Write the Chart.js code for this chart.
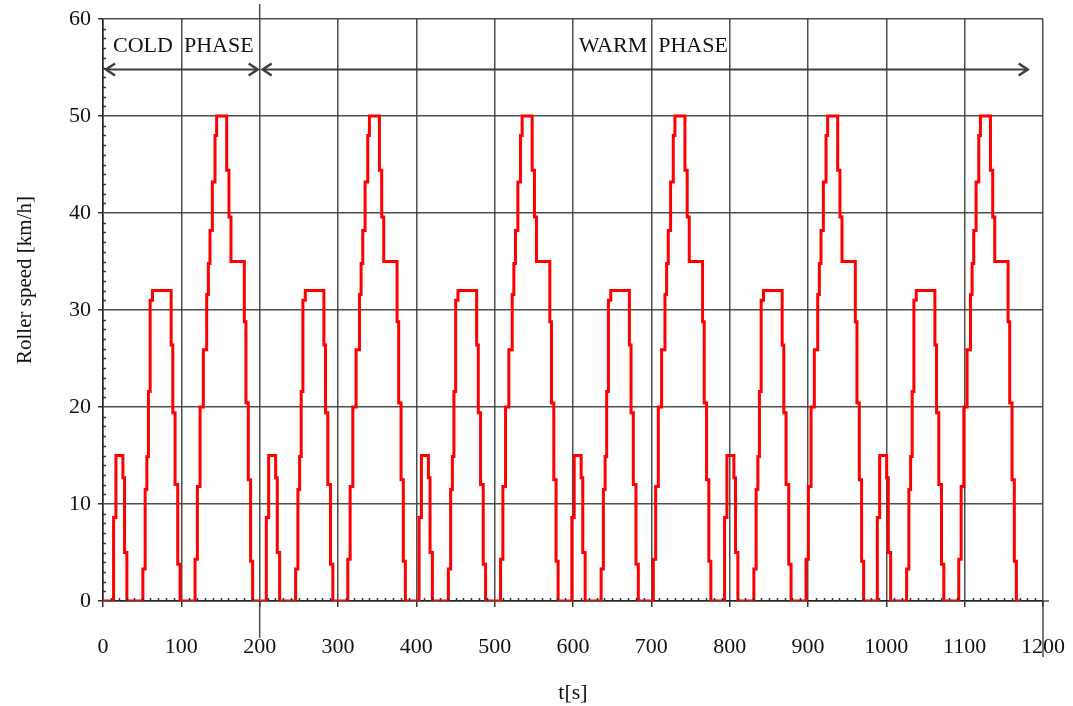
<!DOCTYPE html>
<html>
<head>
<meta charset="utf-8">
<script src="https://cdn.jsdelivr.net/npm/chart.js@4.4.1/dist/chart.umd.min.js"></script>
<style>
  html, body { margin: 0; padding: 0; background: #fff; }
  #wrap { width: 1073px; height: 706px; }
</style>
</head>
<body>
<div id="wrap"><canvas id="chart" width="1073" height="706"></canvas></div>
<script>
// one urban cycle: seconds from cycle start, and the speed it steps to [km/h]
const cycleTime = [0, 13.5, 16.5, 25.4, 27.5, 30.5,
  50.9, 53.8, 56, 58, 60.2, 63.2, 87, 89.1, 92, 95.4, 98.4,
  117.5, 120.5, 123.9, 128.1, 132.4, 134.5, 136.6, 139.6, 143, 145.1,
  157.9, 160.8, 163.4, 180.4, 182.5, 185.5, 188.4, 191];
const cycleSpeed = [0, 8.6, 15, 12.7, 5, 0,
  3.3, 11.5, 14.9, 21.6, 31, 32, 26.4, 19.4, 12, 3.8, 0,
  4.3, 11.8, 20, 25.9, 31.6, 34.8, 38.2, 43.2, 48, 50,
  44.4, 39.6, 35, 28.8, 20.4, 12.5, 4.1, 0];
// start of each repeated cycle (1 cold + 5 warm) and end of the trace [s]
const cycleStart = [0, 195, 390, 585, 780, 975];
const traceEnd = 1172;

const xTicks = [0, 100, 200, 300, 400, 500, 600, 700, 800, 900, 1000, 1100, 1200];
const yTicks = [0, 10, 20, 30, 40, 50, 60];

// phases: label, start, end [s]
const phaseNames = ['COLD  PHASE', 'WARM  PHASE'];
const phaseFrom = [0, 200];
const phaseTo = [200, 1183];

const points = [];
cycleStart.forEach(t0 => {
  cycleTime.forEach((t, i) => points.push({ x: t0 + t, y: cycleSpeed[i] }));
});
points.push({ x: traceEnd, y: 0 });

const FONT = '"Liberation Serif", "Times New Roman", serif';
const GRID = 'rgba(55,60,60,0.9)';

const drawArrowHead = (ctx, x, y, dir) => {
  ctx.beginPath();
  ctx.moveTo(x - dir * 9, y - 6);
  ctx.lineTo(x, y);
  ctx.lineTo(x - dir * 9, y + 6);
  ctx.stroke();
};

const extras = {
  id: 'extras',
  afterDraw(chart) {
    const { ctx, chartArea: area, scales: { x, y } } = chart;
    ctx.save();
    ctx.strokeStyle = '#333';
    ctx.lineWidth = 1.5;

    // minor ticks: 10 s on the time axis, 1 km/h on the speed axis
    ctx.beginPath();
    for (let t = 10; t < 1200; t += 10) {
      if (t % 100 === 0) continue;
      const px = Math.round(x.getPixelForValue(t)) + 0.5;
      ctx.moveTo(px, area.bottom);
      ctx.lineTo(px, area.bottom - 3);
    }
    for (let v = 1; v < 60; v += 1) {
      if (v % 10 === 0) continue;
      const py = Math.round(y.getPixelForValue(v)) + 0.5;
      ctx.moveTo(area.left, py);
      ctx.lineTo(area.left + 3, py);
    }
    ctx.stroke();

    // phase separators running past the frame
    ctx.strokeStyle = GRID;
    ctx.beginPath();
    const p200 = x.getPixelForValue(200);
    ctx.moveTo(p200, 4);
    ctx.lineTo(p200, area.top);
    ctx.moveTo(p200, area.bottom);
    ctx.lineTo(p200, 638);
    const p1200 = x.getPixelForValue(1200);
    ctx.moveTo(p1200, area.bottom);
    ctx.lineTo(p1200, 657);
    ctx.moveTo(area.right, area.bottom);
    ctx.lineTo(area.right + 6, area.bottom);
    ctx.stroke();

    // phase arrows and names
    const ay = y.getPixelForValue(54.8);
    ctx.strokeStyle = '#3a3f3f';
    ctx.lineWidth = 2;
    ctx.fillStyle = '#111';
    ctx.font = '22px ' + FONT;
    ctx.textAlign = 'center';
    ctx.textBaseline = 'alphabetic';
    phaseNames.forEach((name, i) => {
      const x0 = x.getPixelForValue(phaseFrom[i]) + 3;
      const x1 = x.getPixelForValue(phaseTo[i]) - 2;
      ctx.beginPath();
      ctx.moveTo(x0, ay);
      ctx.lineTo(x1, ay);
      ctx.stroke();
      ctx.lineWidth = 2.5;
      drawArrowHead(ctx, x0, ay, -1);
      drawArrowHead(ctx, x1, ay, 1);
      ctx.lineWidth = 2;
      const mid = x.getPixelForValue((phaseFrom[i] + (i === 0 ? phaseTo[i] : 1200)) / 2);
      ctx.fillText(name, mid + 2, 52);
    });

    // speed axis title
    ctx.translate(25, 280);
    ctx.rotate(-Math.PI / 2);
    ctx.textBaseline = 'middle';
    ctx.font = '21px ' + FONT;
    ctx.fillText('Roller speed [km/h]', 0, 0);
    ctx.restore();
  }
};

const ctx = document.getElementById('chart').getContext('2d');
new Chart(ctx, {
  type: 'line',
  data: {
    datasets: [{
      data: points,
      borderColor: '#ff0000',
      borderWidth: 3,
      stepped: true,
      pointRadius: 0,
      fill: false
    }]
  },
  options: {
    responsive: false,
    animation: false,
    layout: { padding: { top: 19, right: 30, bottom: 0, left: 0 } },
    plugins: { legend: { display: false }, tooltip: { enabled: false } },
    scales: {
      x: {
        type: 'linear',
        min: 0,
        max: 1200,
        afterBuildTicks: s => { s.ticks = xTicks.map(v => ({ value: v })); },
        afterFit: s => {
          s.height = 105;
          s.paddingLeft = 0;
          s.paddingRight = 0;
        },
        ticks: {
          callback: v => String(v),
          color: '#111',
          padding: 27,
          maxRotation: 0,
          font: { family: FONT, size: 22 }
        },
        grid: { color: GRID, lineWidth: 1.5, tickLength: 6, tickColor: '#333' },
        border: { color: '#222', width: 1.5 },
        title: {
          display: true,
          text: 't[s]',
          color: '#111',
          padding: { top: 0, bottom: 0 },
          font: { family: FONT, size: 22 }
        }
      },
      y: {
        min: 0,
        max: 60,
        afterBuildTicks: s => { s.ticks = yTicks.map(v => ({ value: v })); },
        afterFit: s => {
          s.width = 103;
          s.paddingTop = 0;
          s.paddingBottom = 0;
        },
        ticks: {
          callback: v => String(v),
          color: '#111',
          padding: 7,
          font: { family: FONT, size: 22 }
        },
        grid: { color: GRID, lineWidth: 1.5, tickLength: 5, tickColor: '#333' },
        border: { color: '#222', width: 1.5 }
      }
    }
  },
  plugins: [extras]
});
</script>
</body>
</html>
